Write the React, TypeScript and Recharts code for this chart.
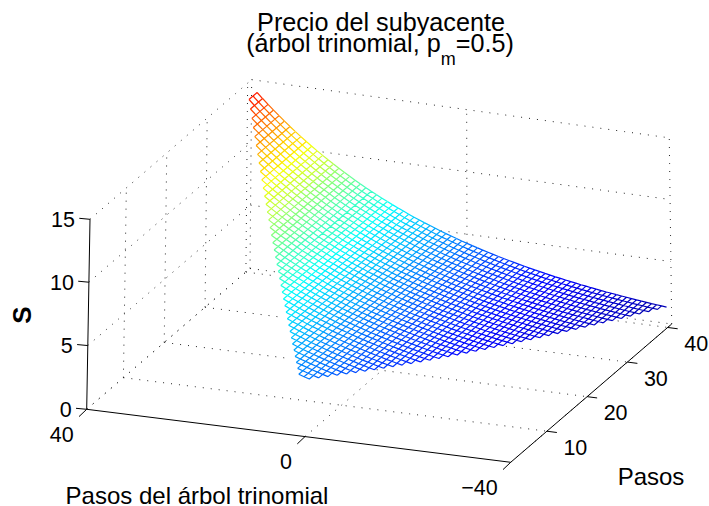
import { LineChart, Line, XAxis, YAxis, ReferenceDot } from "recharts";

const priceByLevel = [
  1.26, 1.3, 1.34, 1.38, 1.42, 1.47, 1.51, 1.56, 1.61, 1.66,
  1.71, 1.76, 1.82, 1.87, 1.93, 1.99, 2.05, 2.12, 2.18, 2.25,
  2.32, 2.39, 2.47, 2.54, 2.62, 2.7, 2.79, 2.87, 2.96, 3.05,
  3.15, 3.25, 3.35, 3.45, 3.56, 3.67, 3.78, 3.9, 4.02, 4.14,
  4.27,
  4.4, 4.54, 4.68, 4.82, 4.97, 5.13, 5.29, 5.45, 5.62, 5.79,
  5.97, 6.16, 6.35, 6.54, 6.75, 6.96, 7.17, 7.39, 7.62, 7.86,
  8.1, 8.35, 8.61, 8.88, 9.16, 9.44, 9.73, 10.03, 10.34, 10.66,
  10.99, 11.33, 11.68, 12.05, 12.42, 12.81, 13.2, 13.61, 14.03, 14.47,
];
const xTicks = [40, 0, -40];
const yTicks = [10, 20, 30, 40];
const zTicks = [0, 5, 10, 15];
const title = "Precio del subyacente";
const subtitle = ["(árbol trinomial, p", "m", "=0.5)"];
const xLabel = "Pasos del árbol trinomial";
const yLabel = "Pasos";
const zLabel = "S";

const W = 709;
const H = 506;
const FONT = "'Liberation Sans', Arial, sans-serif";
const FIRST_STEP = 1;
const LAST_STEP = 41;

type Pt = { x: number; y: number | null };

// Camera calibrated on the corners of the 3D box
const O = [86.7, 409.3];
const B = [510.7, 462.3];
const D = [250, 268.5];
const T = [90, 219.3];
const PA = 0.0176;
const PB = -0.0013;
const PC = 0.01;

function project(X: number, Y: number, Z: number): { x: number; y: number } {
  const u = (40 - X) / 80;
  const a = u + 0.042 * u * (1 - u);
  const b = (Y - FIRST_STEP) / (LAST_STEP - FIRST_STEP);
  const c = Z / 15;
  const w = 1 + PA * a + PB * b + PC * c;
  const at = (i: number) =>
    (O[i] + a * ((1 + PA) * B[i] - O[i]) + b * ((1 + PB) * D[i] - O[i]) + c * ((1 + PC) * T[i] - O[i])) / w;
  return { x: +at(0).toFixed(2), y: +at(1).toFixed(2) };
}

const price = (X: number) => priceByLevel[X + 40];
const low = (Y: number) => Math.max(-(Y - 2), -39);
const high = (Y: number) => Math.min(Y, 39);

// Jet colormap, 64 levels
function jet(i: number) {
  const t = (i + 0.5) / 64;
  const c = (v: number) => Math.round(255 * Math.max(0, Math.min(1, 1.5 - Math.abs(4 * t - v))));
  return `rgb(${c(3)},${c(2)},${c(1)})`;
}
const zMin = 0.5;
const zMax = 16.3;
const bucket = (z: number) => Math.max(0, Math.min(63, Math.floor(((z - zMin) / (zMax - zMin)) * 64)));

// Mesh segments grouped by colour, null points break the path
const buckets: Pt[][] = Array.from({ length: 64 }, () => []);
function addSeg(p: { x: number; y: number }, q: { x: number; y: number }, z: number) {
  const b = buckets[bucket(z)];
  b.push(p, q, { x: q.x, y: null });
}
for (let Y = 2; Y <= LAST_STEP; Y++) {
  for (let X = low(Y); X <= high(Y); X++) {
    const here = project(X, Y, price(X));
    if (X < high(Y)) addSeg(here, project(X + 1, Y, price(X + 1)), price(X));
    if (Y < LAST_STEP && X >= low(Y + 1) && X <= high(Y + 1)) addSeg(here, project(X, Y + 1, price(X)), price(X));
  }
}

// Outline of the mesh, the surface hides the grid behind it
const outline: { x: number; y: number }[] = [];
for (let Y = 2; Y <= LAST_STEP; Y++) outline.push(project(high(Y), Y, price(high(Y))));
for (let X = 38; X >= -39; X--) outline.push(project(X, LAST_STEP, price(X)));
for (let Y = LAST_STEP - 1; Y >= 2; Y--) outline.push(project(low(Y), Y, price(low(Y))));

function insideMesh(p: { x: number; y: number }) {
  let inside = false;
  for (let i = 0, j = outline.length - 1; i < outline.length; j = i++) {
    const a = outline[i];
    const b = outline[j];
    if (a.y > p.y !== b.y > p.y && p.x < ((b.x - a.x) * (p.y - a.y)) / (b.y - a.y) + a.x) inside = !inside;
  }
  return inside;
}

const gridTrace: Pt[] = [];
function addGrid(from: number[], to: number[]) {
  const n = 80;
  let open = false;
  for (let i = 0; i <= n; i++) {
    const s = i / n;
    const p = project(
      from[0] + (to[0] - from[0]) * s,
      from[1] + (to[1] - from[1]) * s,
      from[2] + (to[2] - from[2]) * s
    );
    if (insideMesh(p)) {
      if (open) gridTrace.push({ x: p.x, y: null });
      open = false;
    } else {
      gridTrace.push(p);
      open = true;
    }
  }
  gridTrace.push({ x: 0, y: null });
}
xTicks.forEach((X) => {
  addGrid([X, FIRST_STEP, 0], [X, LAST_STEP, 0]);
  addGrid([X, LAST_STEP, 0], [X, LAST_STEP, 15]);
});
yTicks.forEach((Y) => {
  addGrid([40, Y, 0], [-40, Y, 0]);
  addGrid([40, Y, 0], [40, Y, 15]);
});
zTicks.forEach((Z) => {
  addGrid([40, FIRST_STEP, Z], [40, LAST_STEP, Z]);
  addGrid([40, LAST_STEP, Z], [-40, LAST_STEP, Z]);
});

// Axis lines and tick marks
const axisTrace: Pt[] = [];
function addAxis(p: { x: number; y: number }, q: { x: number; y: number }) {
  axisTrace.push(p, q, { x: q.x, y: null });
}
addAxis(project(40, FIRST_STEP, 0), project(40, FIRST_STEP, 15));
addAxis(project(40, FIRST_STEP, 0), project(-40, FIRST_STEP, 0));
addAxis(project(-40, FIRST_STEP, 0), project(-40, LAST_STEP, 0));
zTicks.forEach((Z) => {
  const p = project(40, FIRST_STEP, Z);
  addAxis(p, { x: p.x - 10.7, y: p.y - 1 });
});
xTicks.forEach((X) => {
  const p = project(X, FIRST_STEP, 0);
  addAxis(p, { x: p.x - 7.7, y: p.y + 7.3 });
});
yTicks.forEach((Y) => {
  const p = project(-40, Y, 0);
  addAxis(p, { x: p.x + 10, y: p.y + 1.3 });
});

function Txt(props: { x: number; y: number; size?: number; anchor?: string; bold?: boolean; rotate?: number; children: any }) {
  const { x, y, size = 21.5, anchor = "middle", bold, rotate, children } = props;
  return (
    <ReferenceDot
      x={x}
      y={y}
      r={0}
      ifOverflow="visible"
      shape={(p: any) => (
        <text
          x={p.cx}
          y={p.cy}
          fontFamily={FONT}
          fontSize={size}
          fontWeight={bold ? "bold" : "normal"}
          textAnchor={anchor}
          fill="#000"
          transform={rotate ? `rotate(${rotate} ${p.cx} ${p.cy})` : undefined}
        >
          {children}
        </text>
      )}
    />
  );
}

export default function App() {
  const line = { xAxisId: 0, yAxisId: 0, dataKey: "y", dot: false, activeDot: false, isAnimationActive: false, legendType: "none" as const, connectNulls: false };
  return (
    <div style={{ position: "fixed", left: 0, top: 0, background: "#fff" }}>
      <LineChart width={W} height={H} margin={{ top: 0, right: 0, bottom: 0, left: 0 }}>
        <XAxis type="number" dataKey="x" domain={[0, W]} allowDataOverflow hide />
        <YAxis type="number" domain={[0, H]} reversed allowDataOverflow hide />
        <Line {...line} data={gridTrace} stroke="#222" strokeWidth={1} strokeDasharray="1 7" />
        <Line {...line} data={axisTrace} stroke="#000" strokeWidth={1} />
        {buckets.map((b, i) => (b.length ? <Line key={i} {...line} data={b} stroke={jet(i)} strokeWidth={1.2} /> : null))}
        <Txt x={381} y={31} size={25.2}>{title}</Txt>
        <Txt x={380} y={52} size={25.2}>
          {subtitle[0]}
          <tspan fontSize={18} dy={13}>{subtitle[1]}</tspan>
          <tspan dy={-13}>{subtitle[2]}</tspan>
        </Txt>
        {zTicks.map((Z) => {
          const p = project(40, FIRST_STEP, Z);
          return <Txt key={Z} x={p.x - 15} y={p.y + 7.5} anchor="end">{Z}</Txt>;
        })}
        {xTicks.map((X) => {
          const p = project(X, FIRST_STEP, 0);
          return <Txt key={X} x={p.x - 13} y={p.y + 32.5} anchor="end">{X < 0 ? `−${-X}` : X}</Txt>;
        })}
        {yTicks.map((Y) => {
          const p = project(-40, Y, 0);
          return <Txt key={Y} x={p.x + 16.5} y={p.y + 23.5} anchor="start">{Y}</Txt>;
        })}
        <Txt x={197} y={504} size={24}>{xLabel}</Txt>
        <Txt x={651} y={485} size={24}>{yLabel}</Txt>
        <Txt x={31} y={315} size={26} bold rotate={-90}>{zLabel}</Txt>
      </LineChart>
    </div>
  );
}
